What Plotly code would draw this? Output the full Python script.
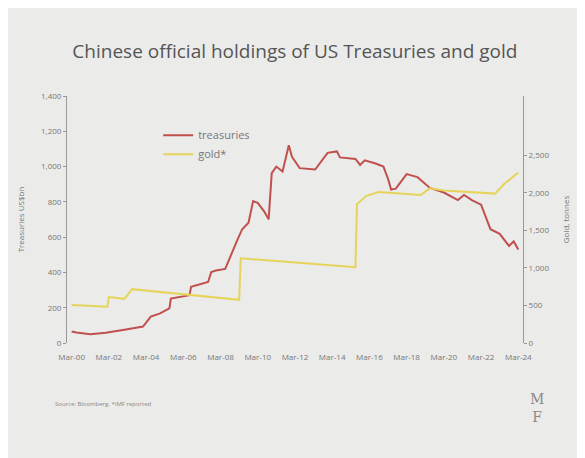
import plotly.graph_objects as go

treas_dates = ["2000-03","2000-06","2001-03","2002-01","2003-01","2004-01","2004-06","2004-12","2005-06","2005-07","2006-07","2006-08","2007-07","2007-09","2007-12","2008-06","2009-02","2009-05","2009-09","2009-12","2010-03","2010-07","2010-10","2010-12","2011-03","2011-07","2011-11","2012-01","2012-06","2013-04","2013-12","2014-06","2014-08","2015-06","2015-09","2015-12","2016-07","2016-12","2017-03","2017-05","2017-08","2018-03","2018-10","2019-06","2020-03","2020-12","2021-04","2021-09","2022-03","2022-09","2023-03","2023-09","2023-12","2024-03"]
treas_vals = [65,60,50,58,75,93,150,168,196,252,271,318,346,402,411,420,589,645,682,804,794,748,701,963,1000,972,1121,1056,991,983,1078,1086,1052,1043,1009,1035,1017,1000,931,870,875,957,940,879,853,810,839,810,784,645,619,550,576,530]

gold_dates = ["2000-03","2002-02","2002-03","2003-01","2003-06","2009-03","2009-04","2015-06","2015-07","2016-01","2016-09","2018-12","2019-06","2020-03","2022-12","2023-06","2024-03"]
gold_vals = [505,482,611,588,717,575,1128,1010,1850,1960,2010,1970,2060,2030,1990,2120,2270]

tick_dates = ["%d-03-01" % y for y in range(2000, 2025, 2)]
tick_text = ["Mar-%02d" % (y % 100) for y in range(2000, 2025, 2)]

fig = go.Figure()
fig.add_trace(go.Scatter(x=treas_dates, y=treas_vals, name="treasuries", mode="lines",
                         line=dict(color="#c0504d", width=2)))
fig.add_trace(go.Scatter(x=gold_dates, y=gold_vals, name="gold*", mode="lines", yaxis="y2",
                         line=dict(color="#e6d45a", width=2)))

axcol = "#999999"
fig.update_layout(
    width=585, height=458, paper_bgcolor="#ebebea", plot_bgcolor="#ebebea",
    margin=dict(l=50, r=70, t=88, b=123),
    font=dict(family="Open Sans", color="#777777", size=8),
    title=dict(text="Chinese official holdings of US Treasuries and gold", x=0.11, xanchor="left",
               y=0.92, font=dict(size=19, color="#555555")),
    showlegend=True,
    legend=dict(x=0.2, y=0.9, bgcolor="rgba(0,0,0,0)", font=dict(size=11, color="#777777")),
    xaxis=dict(type="date", tickvals=tick_dates, ticktext=tick_text, showgrid=False,
               range=["1999-12-01", "2024-06-01"], showline=False, zeroline=False,
               tickfont=dict(size=8), ticklabelstandoff=8),
    yaxis=dict(range=[0, 1400], dtick=200, tickformat=",", showgrid=False, showline=True,
               linecolor=axcol, ticks="outside", tickcolor=axcol, ticklen=3,
               title=dict(text="Treasuries US$bn", font=dict(size=8)), zeroline=False),
    yaxis2=dict(range=[0, 3290], tickvals=[0, 500, 1000, 1500, 2000, 2500], tickformat=",",
                overlaying="y", side="right", showgrid=False, showline=True, linecolor=axcol,
                ticks="outside", tickcolor=axcol, ticklen=3, zeroline=False,
                title=dict(text="Gold, tonnes", font=dict(size=8))),
    annotations=[
        dict(text="Source: Bloomberg, *IMF reported", x=-0.03, y=-0.27, xref="paper", yref="paper",
             xanchor="left", showarrow=False, font=dict(size=6, color="#888888")),
        dict(text="M<br>F", x=1.05, y=-0.34, xref="paper", yref="paper", showarrow=False,
             font=dict(size=14, color="#8a8a8a", family="DejaVu Serif")),
    ],
)
fig.write_html("out.html")
